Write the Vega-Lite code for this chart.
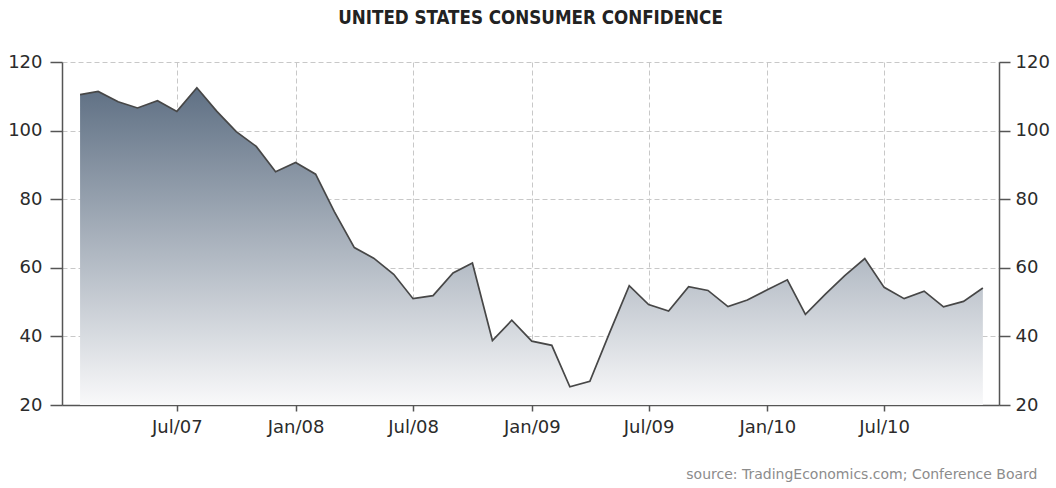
{
  "$schema": "https://vega.github.io/schema/vega-lite/v6.json",
  "width": 937,
  "height": 343,
  "autosize": "none",
  "padding": {"left": 62, "top": 62, "right": 57, "bottom": 83},
  "background": "white",
  "title": {
    "text": "UNITED STATES CONSUMER CONFIDENCE",
    "font": "DejaVu Sans Condensed, Liberation Sans Narrow, DejaVu Sans",
    "fontSize": 18.6,
    "fontWeight": "bold",
    "color": "#222222",
    "anchor": "middle",
    "frame": "group",
    "baseline": "alphabetic",
    "offset": 10
  },
  "data": {
    "values": [
      {"date": "2007-02-01", "value": 110.5},
      {"date": "2007-03-01", "value": 111.4},
      {"date": "2007-04-01", "value": 108.4},
      {"date": "2007-05-01", "value": 106.6},
      {"date": "2007-06-01", "value": 108.7},
      {"date": "2007-07-01", "value": 105.6},
      {"date": "2007-08-01", "value": 112.5},
      {"date": "2007-09-01", "value": 105.6},
      {"date": "2007-10-01", "value": 99.7},
      {"date": "2007-11-01", "value": 95.4},
      {"date": "2007-12-01", "value": 88.0},
      {"date": "2008-01-01", "value": 90.7},
      {"date": "2008-02-01", "value": 87.3},
      {"date": "2008-03-01", "value": 76.4},
      {"date": "2008-04-01", "value": 65.9},
      {"date": "2008-05-01", "value": 62.8},
      {"date": "2008-06-01", "value": 58.1},
      {"date": "2008-07-01", "value": 51.0},
      {"date": "2008-08-01", "value": 51.9},
      {"date": "2008-09-01", "value": 58.5},
      {"date": "2008-10-01", "value": 61.4},
      {"date": "2008-11-01", "value": 38.8},
      {"date": "2008-12-01", "value": 44.7},
      {"date": "2009-01-01", "value": 38.6},
      {"date": "2009-02-01", "value": 37.4},
      {"date": "2009-03-01", "value": 25.3},
      {"date": "2009-04-01", "value": 26.9},
      {"date": "2009-05-01", "value": 40.8},
      {"date": "2009-06-01", "value": 54.8},
      {"date": "2009-07-01", "value": 49.3},
      {"date": "2009-08-01", "value": 47.4},
      {"date": "2009-09-01", "value": 54.5},
      {"date": "2009-10-01", "value": 53.4},
      {"date": "2009-11-01", "value": 48.7},
      {"date": "2009-12-01", "value": 50.6},
      {"date": "2010-01-01", "value": 53.6},
      {"date": "2010-02-01", "value": 56.5},
      {"date": "2010-03-01", "value": 46.4},
      {"date": "2010-04-01", "value": 52.3},
      {"date": "2010-05-01", "value": 57.7},
      {"date": "2010-06-01", "value": 62.7},
      {"date": "2010-07-01", "value": 54.3},
      {"date": "2010-08-01", "value": 51.0},
      {"date": "2010-09-01", "value": 53.2},
      {"date": "2010-10-01", "value": 48.6},
      {"date": "2010-11-01", "value": 50.2},
      {"date": "2010-12-01", "value": 54.1}
    ]
  },
  "encoding": {
    "x": {
      "field": "date",
      "type": "temporal",
      "scale": {
        "type": "utc",
        "domain": [
          {"year": 2007, "month": 1, "date": 4, "utc": true},
          {"year": 2010, "month": 12, "date": 26, "utc": true}
        ]
      },
      "axis": {
        "values": [
          {"year": 2007, "month": 7, "date": 1, "utc": true},
          {"year": 2008, "month": 1, "date": 1, "utc": true},
          {"year": 2008, "month": 7, "date": 1, "utc": true},
          {"year": 2009, "month": 1, "date": 1, "utc": true},
          {"year": 2009, "month": 7, "date": 1, "utc": true},
          {"year": 2010, "month": 1, "date": 1, "utc": true},
          {"year": 2010, "month": 7, "date": 1, "utc": true}
        ],
        "labelExpr": "utcFormat(datum.value, '%b/%y')",
        "labelFlush": false,
        "labelOverlap": false,
        "tickSize": 6,
        "labelPadding": 7,
        "grid": true,
        "title": "source: TradingEconomics.com; Conference Board",
        "titleX": 975,
        "titleY": 69,
        "titleAlign": "right",
        "titleBaseline": "middle",
        "titleFont": "DejaVu Sans",
        "titleFontSize": 14,
        "titleFontWeight": "normal",
        "titleColor": "#8c8c8c"
      }
    }
  },
  "layer": [
    {
      "mark": {
        "type": "area",
        "clip": true,
        "color": {
          "gradient": "linear",
          "x1": 0, "y1": 0, "x2": 0, "y2": 1,
          "stops": [
            {"offset": 0, "color": "#5f7084"},
            {"offset": 1, "color": "#f9f9fa"}
          ]
        }
      },
      "encoding": {
        "y": {
          "field": "value",
          "type": "quantitative",
          "scale": {"domain": [20, 120], "nice": false, "zero": false},
          "axis": {
            "orient": "left",
            "values": [20, 40, 60, 80, 100, 120],
            "grid": true,
            "tickSize": 12,
            "labelPadding": 8,
            "title": null
          }
        },
        "y2": {"datum": 20}
      }
    },
    {
      "mark": {"type": "line", "color": "#474747", "strokeWidth": 1.7, "clip": true},
      "encoding": {
        "y": {
          "field": "value",
          "type": "quantitative",
          "axis": {
            "orient": "right",
            "values": [20, 40, 60, 80, 100, 120],
            "grid": false,
            "tickSize": 11,
            "labelPadding": 5,
            "title": null
          }
        }
      }
    }
  ],
  "resolve": {"axis": {"y": "independent"}},
  "config": {
    "view": {"stroke": null},
    "axis": {
      "domainColor": "#555555",
      "domainWidth": 1.5,
      "tickColor": "#555555",
      "tickWidth": 1.5,
      "labelFont": "DejaVu Sans",
      "labelFontSize": 18,
      "labelColor": "#2b2b2b",
      "gridColor": "#c8c8c8",
      "gridDash": [5, 3],
      "gridWidth": 1
    }
  }
}
